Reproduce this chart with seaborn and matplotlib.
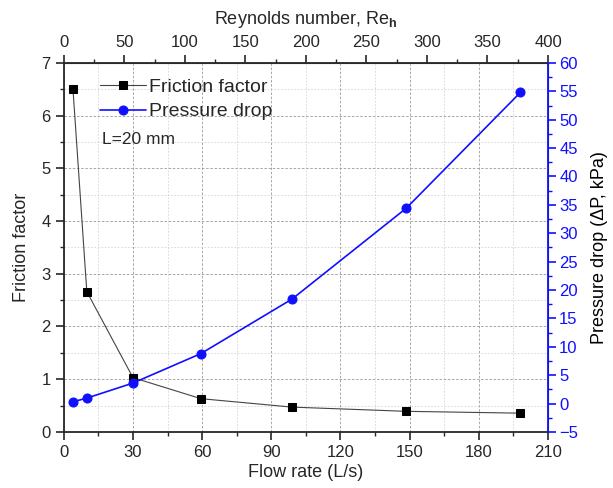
import matplotlib
matplotlib.use("Agg")
import matplotlib.pyplot as plt
import seaborn as sns
import pandas as pd
from matplotlib.ticker import MultipleLocator, FixedLocator

# flow rate (L/s) for each run
flow = [4, 10, 30, 59.5, 99, 148.5, 198]
# friction factor, left axis
friction = [6.5, 2.66, 1.03, 0.63, 0.47, 0.39, 0.355]
# pressure drop in kPa, right axis
dp = [0.3, 0.95, 3.6, 8.8, 18.4, 34.4, 54.8]
# Reynolds number ticks on the top axis
re_ticks = [0, 50, 100, 150, 200, 250, 300, 350, 400]

df = pd.DataFrame({"flow": flow, "friction": friction, "dp": dp})

sns.set_style("ticks")
plt.rcParams["font.family"] = ["Liberation Sans", "DejaVu Sans"]
plt.rcParams["mathtext.fontset"] = "custom"
plt.rcParams["mathtext.rm"] = "Liberation Sans"
plt.rcParams["mathtext.bf"] = "Liberation Sans:bold"

fig = plt.figure(figsize=(6.13, 4.88), dpi=100)
ax = fig.add_axes([0.104, 0.115, 0.79, 0.756])

sns.lineplot(data=df, x="flow", y="friction", ax=ax, color="#444444", lw=0.8,
             marker="s", markersize=5.5, markeredgecolor="black", markerfacecolor="black",
             label="Friction factor", legend=False)

ax2 = ax.twinx()
sns.lineplot(data=df, x="flow", y="dp", ax=ax2, color="#1010ff", lw=1.2,
             marker="o", markersize=6.5, markeredgecolor="#1010ff", markerfacecolor="#1010ff",
             label="Pressure drop", legend=False)

ax.set_xlim(0, 210)
ax.set_ylim(0, 7)
ax2.set_ylim(-5, 60)
ax.xaxis.set_major_locator(MultipleLocator(30))
ax.xaxis.set_minor_locator(MultipleLocator(15))
ax.yaxis.set_major_locator(MultipleLocator(1))
ax.yaxis.set_minor_locator(MultipleLocator(0.5))
ax2.yaxis.set_major_locator(MultipleLocator(5))
ax2.yaxis.set_minor_locator(MultipleLocator(2.5))

# grid: major dashed, minor dotted light
ax.grid(which="major", color="#9a9a9a", ls=(0, (3, 2)), lw=0.6)
ax.grid(which="minor", color="#d4d4d4", ls=(0, (2, 2)), lw=0.6)
ax.set_axisbelow(True)

ax.set_xlabel("Flow rate (L/s)", fontsize=13, labelpad=3)
ax.set_ylabel("Friction factor", fontsize=13, labelpad=8)
ax2.set_ylabel("Pressure drop (\u0394P, kPa)", fontsize=13, color="black", labelpad=9)

ax.tick_params(which="major", direction="out", length=6, width=1.2, labelsize=12)
ax.tick_params(which="minor", direction="out", length=3, width=1)
ax2.tick_params(axis="y", which="major", direction="out", length=6, width=1.2,
                labelsize=12, colors="#1010ff", pad=2)
ax2.tick_params(axis="y", which="minor", direction="out", length=3, width=1, colors="#1010ff")

for s in ["left", "bottom", "top"]:
    ax.spines[s].set_linewidth(1.3)
ax2.spines["right"].set_color("#1010ff")
ax2.spines["right"].set_linewidth(1.3)
for s in ["left", "bottom", "top"]:
    ax2.spines[s].set_visible(False)

# top axis: Reynolds number
top = ax.secondary_xaxis("top", functions=(lambda q: q * 400 / 210, lambda r: r * 210 / 400))
top.xaxis.set_major_locator(FixedLocator(re_ticks))
top.xaxis.set_minor_locator(FixedLocator([r + 25 for r in re_ticks[:-1]]))
top.tick_params(which="major", direction="out", length=6, width=1.2, labelsize=12)
top.tick_params(which="minor", direction="out", length=3, width=1)
top.set_xlabel("Reynolds number, Re$_{\\mathbf{h}}$", fontsize=13, labelpad=8)

h1, l1 = ax.get_legend_handles_labels()
h2, l2 = ax2.get_legend_handles_labels()
ax.legend(h1 + h2, l1 + l2, loc="upper left", bbox_to_anchor=(0.05, 0.99),
          frameon=False, fontsize=14, handlelength=2.4, handletextpad=0.15,
          labelspacing=0.35, borderaxespad=0.2)
ax.text(0.078, 0.78, "L=20 mm", transform=ax.transAxes, fontsize=12.5)

fig.savefig("out.png", dpi=100)
